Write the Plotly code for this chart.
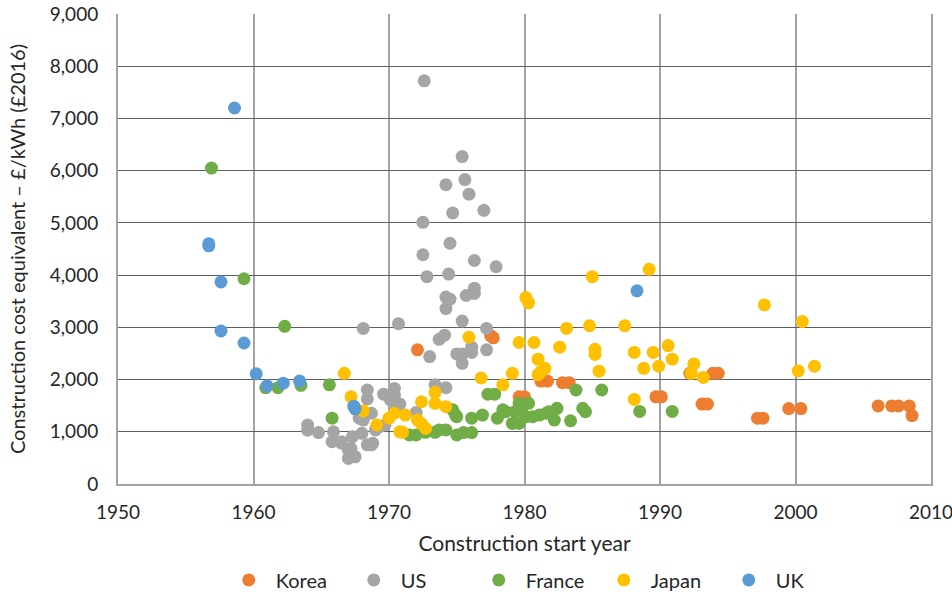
import plotly.graph_objects as go

# ---- data ----
korea_x = [1972.1, 1977.5, 1977.7, 1979.6, 1980.0, 1981.2, 1981.7, 1982.8, 1983.3, 1989.7, 1990.1,
           1992.2, 1993.9, 1994.3, 1993.1, 1993.5, 1997.2, 1997.6, 1999.5, 2000.4, 2006.1, 2007.1,
           2007.6, 2008.4, 2008.6]
korea_y = [2570, 2840, 2800, 1670, 1670, 1970, 1970, 1940, 1940, 1670, 1670,
           2120, 2120, 2120, 1530, 1530, 1260, 1260, 1445, 1445, 1495, 1495,
           1495, 1495, 1310]

us_x = [1972.6, 1975.4, 1974.2, 1975.6, 1975.9, 1974.7, 1977.0, 1972.5, 1974.5, 1972.5, 1976.3,
        1977.9, 1972.8, 1974.4, 1974.2, 1974.5, 1974.2, 1975.7, 1976.3, 1976.3, 1975.4, 1977.2,
        1973.7, 1974.1, 1973.0, 1975.0, 1975.4, 1975.4, 1976.1, 1976.1, 1977.2, 1968.1, 1970.7,
        1973.4, 1974.2, 1968.4, 1968.4, 1969.6, 1970.4, 1970.4, 1970.8, 1972.0, 1964.0, 1964.0,
        1964.8, 1965.9, 1965.8, 1966.5, 1967.0, 1967.5, 1967.2, 1967.3, 1968.1, 1968.7, 1968.4,
        1968.7, 1968.0, 1969.0, 1969.7, 1970.1, 1970.5, 1967.8, 1969.3, 1968.8, 1966.5, 1967.0]
us_y = [7720, 6270, 5730, 5830, 5550, 5190, 5240, 5010, 4610, 4390, 4280,
        4160, 3970, 4020, 3580, 3540, 3360, 3610, 3750, 3650, 3120, 2980,
        2770, 2850, 2440, 2490, 2490, 2310, 2620, 2520, 2570, 2980, 3070,
        1900, 1845, 1800, 1630, 1720, 1830, 1700, 1530, 1370, 1130, 1030,
        985, 1000, 810, 810, 490, 520, 680, 905, 1225, 1355, 750,
        750, 970, 1035, 1130, 1610, 1420, 1260, 1100, 780, 780, 650]

france_x = [1956.9, 1959.3, 1962.3, 1960.9, 1961.8, 1963.5, 1965.6, 1965.8, 1971.5, 1972.0, 1972.7,
            1973.4, 1973.7, 1974.2, 1975.0, 1975.5, 1976.1, 1974.7, 1974.9, 1975.0, 1976.1, 1976.9,
            1977.3, 1977.8, 1978.0, 1978.4, 1978.6, 1979.1, 1979.6, 1979.3, 1979.8, 1979.6, 1980.3,
            1980.1, 1980.6, 1981.1, 1981.6, 1981.8, 1982.2, 1982.4, 1983.4, 1983.8, 1984.3, 1984.5,
            1985.7, 1988.5, 1990.9]
france_y = [6050, 3930, 3020, 1845, 1845, 1890, 1900, 1260, 940, 940, 990,
            990, 1035, 1035, 940, 985, 985, 1420, 1320, 1290, 1260, 1320,
            1720, 1720, 1260, 1420, 1385, 1160, 1160, 1385, 1420, 1545, 1545,
            1290, 1290, 1320, 1355, 1385, 1225, 1450, 1210, 1800, 1450, 1385,
            1800, 1390, 1390]

japan_x = [1966.7, 1967.2, 1968.1, 1969.1, 1970.0, 1970.4, 1970.8, 1971.0, 1971.2, 1972.1, 1972.4,
           1972.7, 1972.4, 1973.4, 1973.4, 1974.2, 1975.9, 1976.8, 1978.4, 1979.1, 1979.6, 1980.1,
           1980.3, 1980.7, 1981.0, 1981.0, 1981.2, 1981.5, 1982.6, 1983.1, 1984.8, 1985.0, 1985.2,
           1985.2, 1985.5, 1987.4, 1988.1, 1988.1, 1988.8, 1989.2, 1989.5, 1989.9, 1990.6, 1990.9,
           1992.3, 1992.5, 1993.2, 1997.7, 2000.2, 2000.5, 2001.4]
japan_y = [2120, 1670, 1400, 1130, 1260, 1355, 1000, 990, 1320, 1225, 1150,
           1065, 1575, 1755, 1545, 1480, 2810, 2030, 1900, 2120, 2710, 3570,
           3470, 2710, 2390, 2090, 2150, 2215, 2620, 2980, 3030, 3970, 2580,
           2480, 2160, 3030, 2520, 1620, 2215, 4110, 2520, 2255, 2650, 2390,
           2120, 2300, 2040, 3430, 2165, 3110, 2255]

uk_x = [1958.6, 1956.7, 1956.7, 1957.6, 1957.6, 1959.3, 1960.2, 1961.0, 1962.2, 1963.4, 1967.4,
        1967.5, 1988.3]
uk_y = [7200, 4600, 4560, 3870, 2930, 2700, 2110, 1880, 1930, 1970, 1490,
        1440, 3700]

x_ticks = [1950, 1960, 1970, 1980, 1990, 2000, 2010]
y_ticks = [0, 1000, 2000, 3000, 4000, 5000, 6000, 7000, 8000, 9000]

series = [
    ("Korea", korea_x, korea_y, "#ED7D31"),
    ("US", us_x, us_y, "#A5A5A5"),
    ("France", france_x, france_y, "#70AD47"),
    ("Japan", japan_x, japan_y, "#FFC000"),
    ("UK", uk_x, uk_y, "#5B9BD5"),
]

fig = go.Figure()
for name, xs, ys, col in series:
    fig.add_trace(go.Scatter(x=xs, y=ys, mode="markers", name=name,
                             marker=dict(color=col, size=13, line=dict(width=0))))

font_family = "Lato, Open Sans, sans-serif"
fig.update_layout(
    width=952, height=596,
    margin=dict(l=118, r=21, t=14, b=112, autoexpand=False),
    paper_bgcolor="white", plot_bgcolor="white",
    font=dict(family=font_family, size=19, color="#262626"),
    xaxis=dict(range=[1950, 2010], tickvals=x_ticks, ticktext=[str(v) for v in x_ticks],
               showgrid=True, gridcolor="#a3a3a3", gridwidth=2,
               showline=True, linecolor="#a3a3a3", linewidth=2, mirror=False,
               zeroline=False, ticks="", ticklabelstandoff=10, automargin=False,
               ticklabeloverflow="allow", tickfont=dict(size=19),
               title=dict(text="Construction start year", font=dict(size=21))),
    xaxis2=dict(range=[1950, 2010], overlaying="x", side="top", matches="x",
                showline=True, linecolor="#5e5e5e", linewidth=1.2,
                showgrid=False, zeroline=False, showticklabels=False, ticks=""),
    yaxis=dict(range=[0, 9000], tickvals=y_ticks, tickformat=",",
               showgrid=True, gridcolor="#5e5e5e", gridwidth=1.2,
               showline=True, linecolor="#a3a3a3", linewidth=2, mirror=True,
               zeroline=False, ticks="", ticklabelstandoff=14, automargin=False,
               ticklabeloverflow="allow", tickfont=dict(size=19),
               title=dict(text="Construction cost equivalent – £/kWh (£2016)",
                          font=dict(size=20), standoff=19)),
    legend=dict(orientation="h", x=0.512, xanchor="center", y=-0.204, yanchor="middle",
                font=dict(size=20), itemsizing="trace", entrywidth=66,
                entrywidthmode="pixels", itemwidth=44),
    showlegend=True,
)

fig.write_html("out.html", config={"displayModeBar": False},
               post_script="document.body.style.margin='0px';")
